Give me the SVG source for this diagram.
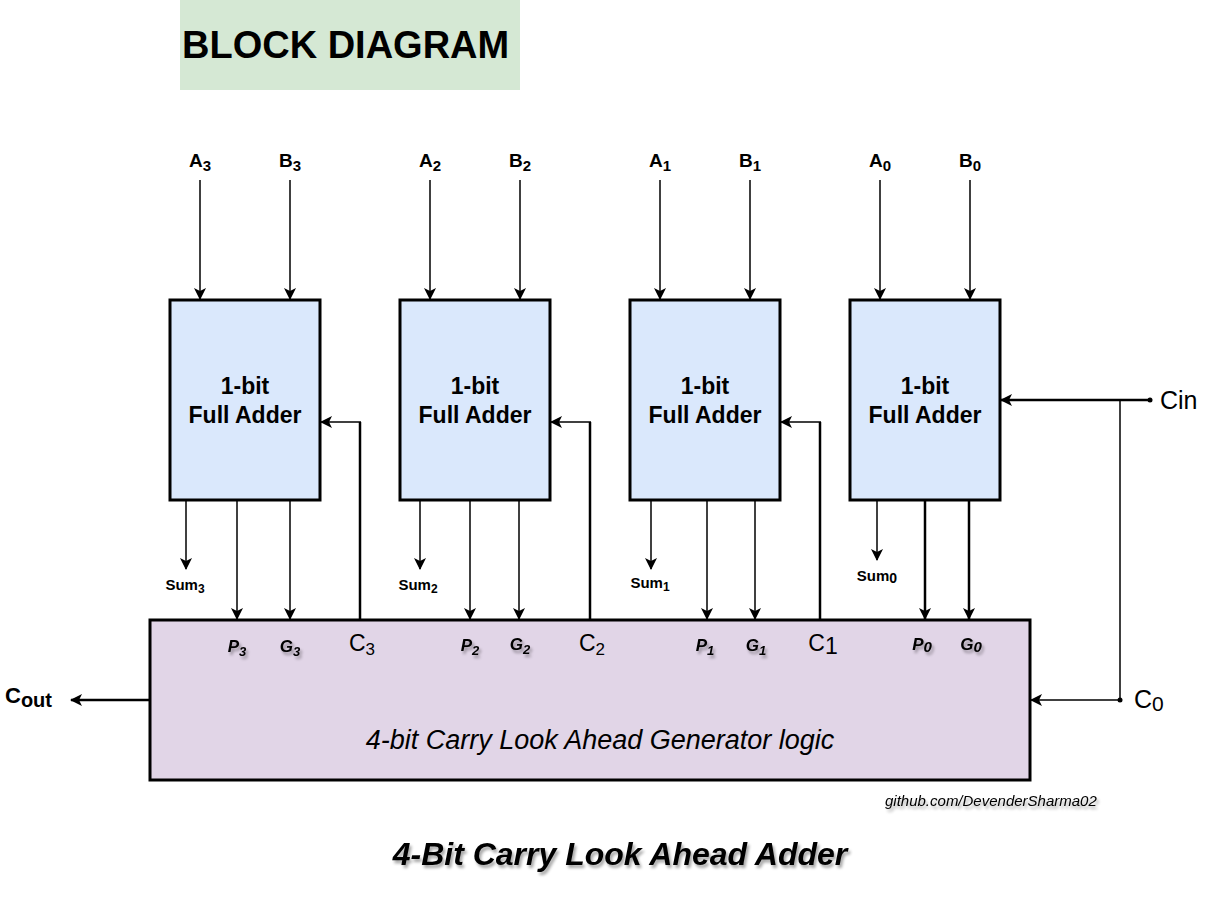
<svg xmlns="http://www.w3.org/2000/svg" width="1220" height="900" viewBox="0 0 1220 900">
<defs>
<marker id="arr" viewBox="0 0 12 12" refX="11" refY="6" markerWidth="12" markerHeight="12" markerUnits="userSpaceOnUse" orient="auto">
<path d="M0,0 L12,6 L0,12 L3,6 Z" fill="#000"/>
</marker>
<filter id="sh" x="-10%" y="-20%" width="130%" height="160%">
<feGaussianBlur in="SourceAlpha" stdDeviation="1.5"/>
<feOffset dx="2" dy="3" result="b"/>
<feComponentTransfer><feFuncA type="linear" slope="0.35"/></feComponentTransfer>
<feMerge><feMergeNode/><feMergeNode in="SourceGraphic"/></feMerge>
</filter>
</defs>
<style>
.fa{fill:#dae8fc;stroke:#000;stroke-width:3}
.cla{fill:#e1d5e7;stroke:#000;stroke-width:3}
.ln{fill:none;stroke:#000;stroke-width:1.5}
.th{fill:none;stroke:#000;stroke-width:2.5}
.t{font-family:"Liberation Sans",Arial,sans-serif;fill:#000}
.b{font-weight:bold}
.in{font-size:19px;font-weight:bold;text-anchor:middle}
.sm{font-size:15px;font-weight:bold;text-anchor:middle}
.pg{font-size:17px;font-weight:bold;font-style:italic;text-anchor:middle}
.c{font-size:23px;text-anchor:middle}
.fat{font-size:23px;font-weight:bold;text-anchor:middle}
</style>
<rect width="1220" height="900" fill="#fff"/>

<g id="title">
<rect x="180" y="0" width="340" height="90" fill="#d5e8d4"/>
<text class="t b" x="182" y="58" font-size="38">BLOCK DIAGRAM</text>
</g>

<g id="fa3">
<rect class="fa" x="170" y="300" width="150" height="200"/>
<text class="t fat" x="245" y="394">1-bit</text>
<text class="t fat" x="245" y="423">Full Adder</text>
</g>
<g id="fa2">
<rect class="fa" x="400" y="300" width="150" height="200"/>
<text class="t fat" x="475" y="394">1-bit</text>
<text class="t fat" x="475" y="423">Full Adder</text>
</g>
<g id="fa1">
<rect class="fa" x="630" y="300" width="150" height="200"/>
<text class="t fat" x="705" y="394">1-bit</text>
<text class="t fat" x="705" y="423">Full Adder</text>
</g>
<g id="fa0">
<rect class="fa" x="850" y="300" width="150" height="200"/>
<text class="t fat" x="925" y="394">1-bit</text>
<text class="t fat" x="925" y="423">Full Adder</text>
</g>

<g id="cla">
<rect class="cla" x="150" y="620" width="880" height="160"/>
<text class="t" x="600" y="749" font-size="27" font-style="italic" text-anchor="middle">4-bit Carry Look Ahead Generator logic</text>
<g filter="url(#sh)">
<text class="t pg" x="237" y="652">P<tspan font-size="13" dy="4">3</tspan></text>
<text class="t pg" x="290" y="652">G<tspan font-size="13" dy="4">3</tspan></text>
<text class="t pg" x="470" y="651">P<tspan font-size="13" dy="4">2</tspan></text>
<text class="t pg" x="520" y="650">G<tspan font-size="13" dy="4">2</tspan></text>
<text class="t pg" x="705" y="651">P<tspan font-size="13" dy="4">1</tspan></text>
<text class="t pg" x="756" y="651">G<tspan font-size="13" dy="4">1</tspan></text>
<text class="t pg" x="922" y="650">P<tspan font-size="15" dy="2">0</tspan></text>
<text class="t pg" x="971" y="650">G<tspan font-size="15" dy="2">0</tspan></text>
</g>
<text class="t c" x="362" y="651">C<tspan font-size="17" dy="4">3</tspan></text>
<text class="t c" x="592" y="651">C<tspan font-size="17" dy="4">2</tspan></text>
<text class="t c" x="823" y="651">C<tspan font-size="23" dy="3">1</tspan></text>
</g>

<g id="labels">
<text class="t in" x="200" y="167">A<tspan font-size="15" dy="4">3</tspan></text>
<text class="t in" x="290" y="167">B<tspan font-size="15" dy="4">3</tspan></text>
<text class="t in" x="430" y="167">A<tspan font-size="15" dy="4">2</tspan></text>
<text class="t in" x="520" y="167">B<tspan font-size="15" dy="4">2</tspan></text>
<text class="t in" x="660" y="167">A<tspan font-size="15" dy="4">1</tspan></text>
<text class="t in" x="750" y="167">B<tspan font-size="15" dy="4">1</tspan></text>
<text class="t in" x="880" y="167">A<tspan font-size="15" dy="4">0</tspan></text>
<text class="t in" x="970" y="167">B<tspan font-size="15" dy="4">0</tspan></text>
<text class="t sm" x="185" y="590">Sum<tspan font-size="12" dy="3">3</tspan></text>
<text class="t sm" x="418" y="590">Sum<tspan font-size="12" dy="3">2</tspan></text>
<text class="t sm" x="650" y="588">Sum<tspan font-size="12" dy="3">1</tspan></text>
<text class="t sm" x="877" y="581">Sum<tspan font-size="14" dy="2">0</tspan></text>
<text class="t" x="5" y="703" font-size="22" font-weight="bold">C<tspan font-size="20" dy="4">out</tspan></text>
<text class="t" x="1160" y="409" font-size="25">Cin</text>
<text class="t" x="1134" y="708" font-size="25">C<tspan font-size="21" dy="3">0</tspan></text>
<text class="t" x="885" y="806" font-size="15" font-style="italic" filter="url(#sh)">github.com/DevenderSharma02</text>
<text class="t" x="620" y="865" font-size="32" font-weight="bold" font-style="italic" text-anchor="middle" filter="url(#sh)">4-Bit Carry Look Ahead Adder</text>
</g>

<g id="connectors">
<path class="ln" d="M200,180 V299" marker-end="url(#arr)"/>
<path class="ln" d="M290,180 V299" marker-end="url(#arr)"/>
<path class="ln" d="M430,180 V299" marker-end="url(#arr)"/>
<path class="ln" d="M520,180 V299" marker-end="url(#arr)"/>
<path class="ln" d="M660,180 V299" marker-end="url(#arr)"/>
<path class="ln" d="M750,180 V299" marker-end="url(#arr)"/>
<path class="ln" d="M880,180 V299" marker-end="url(#arr)"/>
<path class="ln" d="M970,180 V299" marker-end="url(#arr)"/>

<path class="ln" d="M186,501 V569" marker-end="url(#arr)"/>
<path class="ln" d="M420,501 V569" marker-end="url(#arr)"/>
<path class="ln" d="M651,501 V569" marker-end="url(#arr)"/>
<path class="ln" d="M877,501 V560" marker-end="url(#arr)"/>

<path class="ln" d="M237,501 V619" marker-end="url(#arr)"/>
<path class="ln" d="M290,501 V619" marker-end="url(#arr)"/>
<path class="ln" d="M470,501 V619" marker-end="url(#arr)"/>
<path class="ln" d="M519,501 V619" marker-end="url(#arr)"/>
<path class="ln" d="M707,501 V619" marker-end="url(#arr)"/>
<path class="ln" d="M755,501 V619" marker-end="url(#arr)"/>
<path class="th" d="M925,501 V619" stroke-width="2" marker-end="url(#arr)"/>
<path class="th" d="M969,501 V619" stroke-width="2" marker-end="url(#arr)"/>

<path class="th" d="M360,619 V422"/>
<path class="ln" d="M361,422 H321" marker-end="url(#arr)"/>
<path class="th" d="M590,619 V422"/>
<path class="ln" d="M591,422 H551" marker-end="url(#arr)"/>
<path class="th" d="M820,619 V422"/>
<path class="ln" d="M821,422 H781" marker-end="url(#arr)"/>

<path class="th" d="M150,700 H71" stroke-width="2" marker-end="url(#arr)"/>

<path class="th" d="M1150,400 H1001" stroke-width="2" marker-end="url(#arr)"/>
<circle cx="1150" cy="400" r="2.5" fill="#000"/>
<path class="ln" d="M1120,400 V700"/>
<path class="ln" d="M1120,700 H1031" marker-end="url(#arr)"/>
<circle cx="1120" cy="700" r="2.5" fill="#000"/>
</g>
</svg>
